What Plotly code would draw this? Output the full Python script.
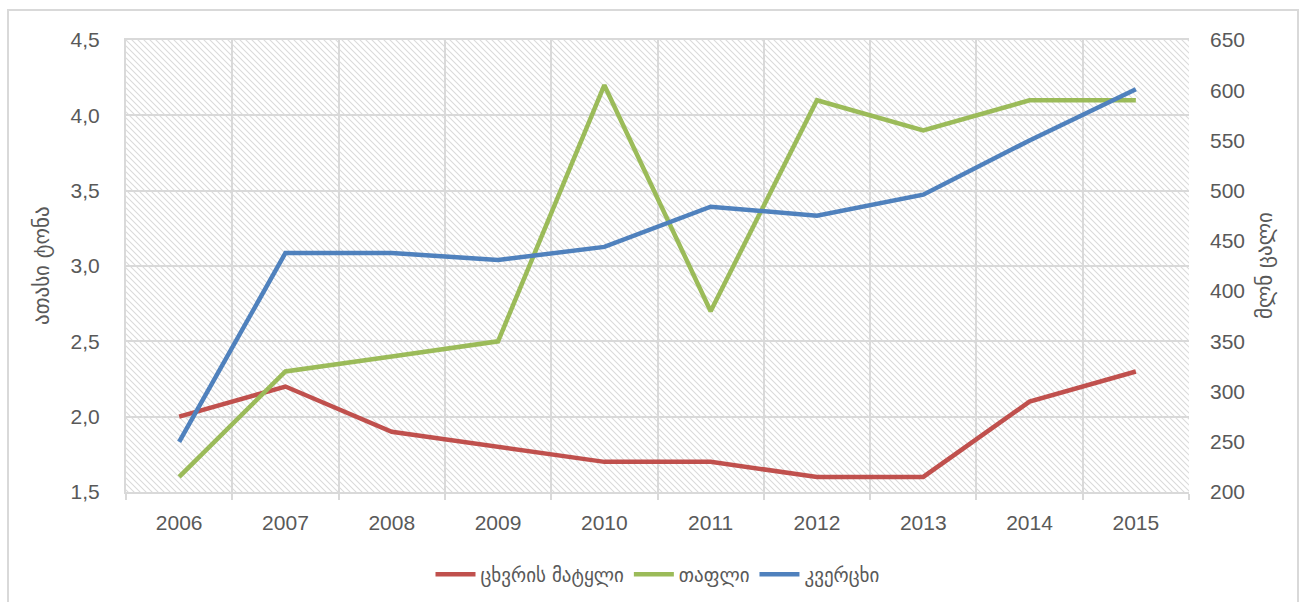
import base64
import plotly.graph_objects as go

years = ["2006", "2007", "2008", "2009", "2010", "2011", "2012", "2013", "2014", "2015"]
wool = [2.0, 2.2, 1.9, 1.8, 1.7, 1.7, 1.6, 1.6, 2.1, 2.3]          # ათასი ტონა
honey = [1.6, 2.3, 2.4, 2.5, 4.2, 2.7, 4.1, 3.9, 4.1, 4.1]         # ათასი ტონა
eggs = [250, 438, 438, 431, 444, 484, 475, 496, 550, 601]          # მლნ ცალი

series_names = ["ცხვრის მატყლი", "თაფლი", "კვერცხი"]
series_colors = ["#C0504D", "#9BBB59", "#4F81BD"]

W, H = 1304, 602
L, R, T, B = 126, 115, 40, 110
PW, PH = W - L - R, H - T - B

NUM_FONT = "Liberation Sans, Arial, sans-serif"
GEO_FONT = "DejaVu Sans, Noto Sans, sans-serif"
TXT = "#595959"
GRID = "#D9D9D9"

# diagonal hatch fill for the plot area
svg = f'''<svg xmlns="http://www.w3.org/2000/svg" width="{PW}" height="{PH}" viewBox="0 0 {PW} {PH}">
<defs><pattern id="h" width="6" height="6" patternUnits="userSpaceOnUse">
<path d="M0,0 L6,6 M-1,5 L1,7 M5,-1 L7,1" stroke="#DADADA" stroke-width="1.1"/>
</pattern></defs>
<rect width="{PW}" height="{PH}" fill="#FFFFFF"/>
<rect width="{PW}" height="{PH}" fill="url(#h)"/>
</svg>'''
hatch_uri = "data:image/svg+xml;base64," + base64.b64encode(svg.encode()).decode()

fig = go.Figure()
fig.add_trace(go.Scatter(x=years, y=wool, name=series_names[0], mode="lines",
                         line=dict(color=series_colors[0], width=4.5), yaxis="y"))
fig.add_trace(go.Scatter(x=years, y=honey, name=series_names[1], mode="lines",
                         line=dict(color=series_colors[1], width=4.5), yaxis="y"))
fig.add_trace(go.Scatter(x=years, y=eggs, name=series_names[2], mode="lines",
                         line=dict(color=series_colors[2], width=4.5), yaxis="y2"))

fig.update_layout(
    width=W, height=H,
    margin=dict(l=L, r=R, t=T, b=B, autoexpand=False),
    paper_bgcolor="#FFFFFF",
    plot_bgcolor="rgba(0,0,0,0)",
    separators=",.",
    showlegend=True,
    legend=dict(orientation="h", x=0.5, xanchor="center", y=-0.14, yanchor="top",
                font=dict(family=GEO_FONT, size=19, color=TXT),
                itemwidth=40, tracegroupgap=0, bgcolor="rgba(0,0,0,0)"),
    xaxis=dict(type="category", range=[-0.5, len(years) - 0.5],
               tickson="boundaries", showgrid=True, gridcolor=GRID,
               gridwidth=2, ticks="outside", ticklen=6, tickcolor=GRID, tickwidth=2,
               showline=True, linecolor=GRID, linewidth=2, mirror=True,
               tickfont=dict(family=NUM_FONT, size=21, color=TXT),
               ticklabelstandoff=11, fixedrange=True),
    yaxis=dict(range=[1.5, 4.5], dtick=0.5, tickformat=".1f", showgrid=True,
               gridcolor=GRID, gridwidth=2, zeroline=False, ticks="",
               showline=True, linecolor=GRID, linewidth=2,
               tickfont=dict(family=NUM_FONT, size=21, color=TXT),
               ticklabelstandoff=20, fixedrange=True),
    yaxis2=dict(range=[200, 650], dtick=50, overlaying="y", side="right",
                showgrid=False, zeroline=False, ticks="", showline=False,
                tickfont=dict(family=NUM_FONT, size=21, color=TXT),
                ticklabelstandoff=20, fixedrange=True),
    images=[dict(source=hatch_uri, xref="x domain", yref="y domain", x=0, y=1,
                 sizex=1, sizey=1, xanchor="left", yanchor="top",
                 sizing="stretch", layer="below")],
    annotations=[
        dict(text="ათასი ტონა", xref="paper", yref="paper",
             x=(42 - L) / PW, y=0.5, textangle=-90, showarrow=False,
             xanchor="center", yanchor="middle",
             font=dict(family=GEO_FONT, size=21, color=TXT)),
        dict(text="მლნ ცალი", xref="paper", yref="paper",
             x=(1265 - L) / PW, y=0.5, textangle=-90, showarrow=False,
             xanchor="center", yanchor="middle",
             font=dict(family=GEO_FONT, size=21, color=TXT)),
    ],
    shapes=[dict(type="rect", xref="paper", yref="paper",
                 x0=(8 - L) / PW, x1=(1298 - L) / PW,
                 y0=(T + PH - 612) / PH, y1=(T + PH - 10) / PH,
                 line=dict(color=GRID, width=2), fillcolor="rgba(0,0,0,0)",
                 layer="below")],
)

fig.write_html("out.html")
